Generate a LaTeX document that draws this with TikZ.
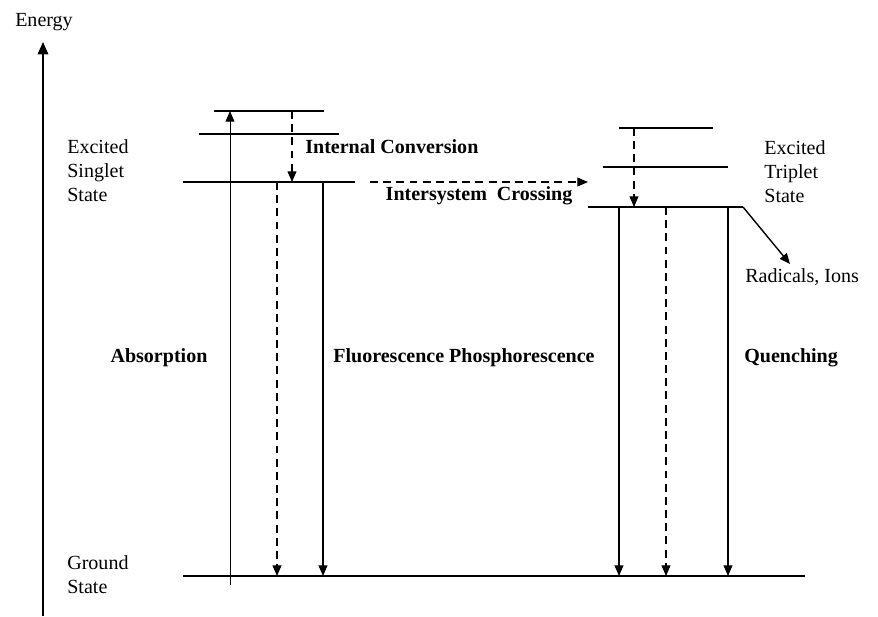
\documentclass[tikz,border=0pt]{standalone}
\usepackage{fontspec}
\setmainfont{Liberation Serif}
\usepackage{tikz}
\usetikzlibrary{arrows.meta,positioning,calc}

\tikzset{
  level/.style={line width=1.6pt},
  trans/.style={line width=0.6pt,-{Triangle[length=6pt,width=5pt]}},
  nonrad/.style={trans,dash pattern=on 4.5pt off 3pt},
  lbl/.style={inner sep=0pt,font=\fontsize{11.4}{13.6}\selectfont},
  blbl/.style={lbl,font=\fontsize{11.4}{13.6}\selectfont\bfseries}
}

\begin{document}
\begin{tikzpicture}[x=0.02cm,y=-0.02cm]
  \useasboundingbox (0,0) rectangle (878,616);

  % energy axis
  \coordinate (axB) at (43,616);
  \coordinate (axT) at (43,42);
  \draw[line width=0.8pt,-{Triangle[length=7pt,width=6pt]}] (axB) -- (axT);
  \node[lbl] (energy) at (44,22) {Energy};

  % singlet levels
  \draw[level] (214,111) coordinate (s2L) -- (324,111) coordinate (s2R);
  \draw[level] (199,134) coordinate (s1hL) -- (339,134) coordinate (s1hR);
  \draw[level] (183,182) coordinate (s1L) -- (355,182) coordinate (s1R);
  % triplet levels
  \draw[level] (619,128) coordinate (t2L) -- (713,128) coordinate (t2R);
  \draw[level] (603,167) coordinate (t1hL) -- (728,167) coordinate (t1hR);
  \draw[level] (588,207) coordinate (t1L) -- (743,207) coordinate (t1R);
  % ground state
  \draw[level] (183,576) coordinate (gL) -- (805,576) coordinate (gR);

  % absorption
  \coordinate (absB) at (230,585);
  \draw[trans,line width=0.5pt] (absB) -- (absB |- s2L);
  % internal conversion
  \coordinate (icT) at (292,111);
  \draw[nonrad] (icT) -- (icT |- s1L);
  % singlet decay
  \coordinate (sdA) at (277,182);
  \coordinate (sdB) at (323,182);
  \draw[nonrad] (sdA) -- (sdA |- gL);
  \draw[trans] (sdB) -- (sdB |- gL);
  % intersystem crossing
  \coordinate (iscA) at (370,182);
  \draw[nonrad] (iscA) -- (t1L |- iscA);
  % triplet relaxation
  \coordinate (trT) at (634,128);
  \draw[nonrad] (trT) -- (trT |- t1L);
  % triplet decay
  \coordinate (tdA) at (619,207);
  \coordinate (tdB) at (666,207);
  \coordinate (tdC) at (728,207);
  \draw[trans] (tdA) -- (tdA |- gL);
  \draw[nonrad] (tdB) -- (tdB |- gL);
  \draw[trans] (tdC) -- (tdC |- gL);
  % radicals
  \coordinate (rad) at (790,264);
  \draw[trans,line width=0.8pt] (t1R) -- (rad);

  % labels
  \node[lbl,align=left,anchor=west] (sing) at (67,171) {Excited\\Singlet\\State};
  \node[lbl,align=left,anchor=west] (trip) at (764,172) {Excited\\Triplet\\State};
  \node[lbl,align=left,anchor=west] (gnd) at (67,575) {Ground\\State};
  \node[lbl,anchor=west] (radl) at (745,277) {Radicals, Ions};
  \node[blbl,anchor=west] (icl) at (305,147) {Internal Conversion};
  \node[blbl] (iscl) at (479,196) {Intersystem\ \ Crossing};
  \node[blbl] (absl) at (159,358) {Absorption};
  \node[blbl,anchor=west] (fpl) at (333,358) {Fluorescence Phosphorescence};
  \node[blbl,anchor=west] (ql) at (744,358) {Quenching};
\end{tikzpicture}
\end{document}
